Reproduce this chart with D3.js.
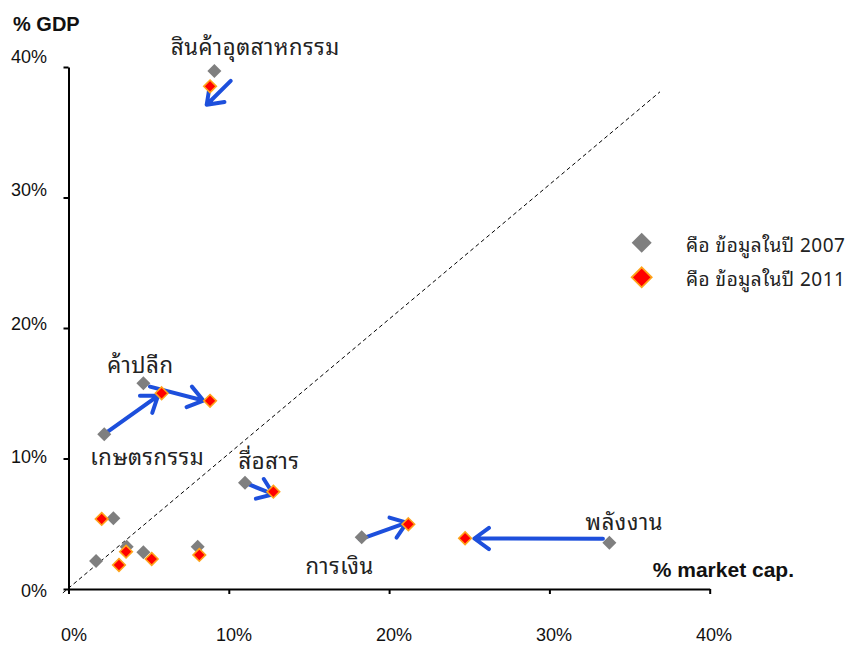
<!DOCTYPE html>
<html>
<head>
<meta charset="utf-8">
<script src="https://cdn.jsdelivr.net/npm/d3@7"></script>
<style>
  html, body { margin: 0; padding: 0; background: #fff; }
  svg { display: block; }
  .num { font-family: "Liberation Sans", Arial, sans-serif; fill: #111; }
  .thai { font-family: "Noto Sans Thai Looped", "Noto Sans Thai", Tahoma, Loma, "Noto Sans", sans-serif; fill: #222; }
</style>
</head>
<body>
<svg id="chart" width="847" height="646"></svg>
<script>
// Sector names (unlabelled sectors left blank)
const sectors = ["สินค้าอุตสาหกรรม", "ค้าปลีก", "เกษตรกรรม", "สื่อสาร", "การเงิน", "พลังงาน", "", "", "", "", ""];
// Share of market capitalisation (%) and share of GDP (%), 2007
const cap2007 = [9.10, 4.67, 2.23, 11.01, 18.29, 33.74, 2.80, 3.63, 1.72, 4.67, 8.06];
const gdp2007 = [39.70, 15.77, 11.86, 8.15, 3.96, 3.55, 5.42, 3.24, 2.15, 2.81, 3.24];
// Same measures, 2011
const cap2011 = [8.83, 8.83, 5.81, 12.78, 21.20, 24.74, 2.07, 3.59, 3.15, 5.19, 8.16];
const gdp2011 = [38.52, 14.42, 15.00, 7.46, 4.96, 3.89, 5.37, 2.86, 1.84, 2.30, 2.61];
// Movement arrows: start and end in (% market cap, % GDP)
const arrowFromCap = [10.12, 2.23, 5.08, 11.22, 18.18, 33.34];
const arrowFromGdp = [38.94, 11.86, 15.51, 8.03, 3.81, 3.86];
const arrowToCap   = [8.62, 5.58, 8.41, 12.78, 21.10, 25.32];
const arrowToGdp   = [37.11, 14.80, 14.44, 7.26, 5.08, 3.87];
// Axis ticks
const tickValues = [0, 10, 20, 30, 40];
const tickLabels = ["0%", "10%", "20%", "30%", "40%"];
// Reference line y = x
const refCap = [-0.35, 36.9];
const refGdp = [-0.3, 38.1];
// Legend
const legendLabels = ["คือ ข้อมูลในปี 2007", "คือ ข้อมูลในปี 2011"];

const svg = d3.select("#chart");
const x = d3.scaleLinear().domain([0, 40]).range([68.5, 709.7]);
const y = d3.scaleLinear().domain([0, 40]).range([589, 67]);
// tick labels sit on their own slightly wider grid
const xLab = d3.scaleLinear().domain([0, 40]).range([74, 714]);
const yLab = d3.scaleLinear().domain([0, 40]).range([596.5, 63]);

// reference diagonal
svg.append("line")
  .attr("x1", x(refCap[0])).attr("y1", y(refGdp[0]))
  .attr("x2", x(refCap[1])).attr("y2", y(refGdp[1]))
  .attr("stroke", "#000").attr("stroke-width", 1)
  .attr("stroke-dasharray", "4,3");

// axes
const xAxis = svg.append("g").attr("transform", `translate(0,${y(0)})`)
  .call(d3.axisBottom(x).tickValues(tickValues).tickSize(5).tickSizeOuter(0).tickFormat(""));
const yAxis = svg.append("g").attr("transform", `translate(${x(0)},0)`)
  .call(d3.axisLeft(y).tickValues(tickValues).tickSize(5).tickSizeOuter(0).tickFormat(""));
[xAxis, yAxis].forEach(g => {
  g.selectAll("path, line").attr("stroke", "#000").attr("stroke-width", 2);
});

svg.append("g").selectAll("text").data(tickValues).join("text")
  .attr("class", "num").attr("x", d => xLab(d)).attr("y", 641)
  .attr("text-anchor", "middle").attr("font-size", 18)
  .text((d, i) => tickLabels[i]);
svg.append("g").selectAll("text").data(tickValues).join("text")
  .attr("class", "num").attr("x", 47).attr("y", d => yLab(d))
  .attr("text-anchor", "end").attr("font-size", 18)
  .text((d, i) => tickLabels[i]);

// axis titles
svg.append("text").attr("class", "num").attr("x", 13).attr("y", 31)
  .attr("font-size", 20).attr("font-weight", "bold").text("% GDP");
svg.append("text").attr("class", "num").attr("x", 794).attr("y", 577)
  .attr("text-anchor", "end").attr("font-size", 21).attr("font-weight", "bold").text("% market cap.");

// arrows
const arrowColor = "#1d4fdc";
const arrows = svg.append("g");
arrowFromCap.forEach((_, i) => {
  const x1 = x(arrowFromCap[i]), y1 = y(arrowFromGdp[i]);
  const x2 = x(arrowToCap[i]), y2 = y(arrowToGdp[i]);
  const ang = Math.atan2(y2 - y1, x2 - x1);
  const len = 18, spread = Math.PI * 0.2;
  const hx1 = x2 - len * Math.cos(ang - spread), hy1 = y2 - len * Math.sin(ang - spread);
  const hx2 = x2 - len * Math.cos(ang + spread), hy2 = y2 - len * Math.sin(ang + spread);
  arrows.append("path")
    .attr("d", `M${x1},${y1}L${x2},${y2}M${hx1},${hy1}L${x2},${y2}L${hx2},${hy2}`)
    .attr("fill", "none").attr("stroke", arrowColor).attr("stroke-width", 4)
    .attr("stroke-linecap", "round").attr("stroke-linejoin", "round");
});

const diamond = (s) => `M0,${-s}L${s},0L0,${s}L${-s},0Z`;

// 2007 points
svg.append("g").selectAll("path").data(cap2007).join("path")
  .attr("transform", (d, i) => `translate(${x(d)},${y(gdp2007[i])})`)
  .attr("d", diamond(7)).attr("fill", "#7f7f7f");
// 2011 points
svg.append("g").selectAll("path").data(cap2011).join("path")
  .attr("transform", (d, i) => `translate(${x(d)},${y(gdp2011[i])})`)
  .attr("d", diamond(6.3)).attr("fill", "#ff0000")
  .attr("stroke", "#ffa31a").attr("stroke-width", 1.6);

// sector labels, placed relative to the 2007 point
const labelOffset = [[41, -16], [-3, -10], [43, 31], [24, -14], [-22, 37], [15, -13]];
svg.append("g").selectAll("text").data(labelOffset).join("text")
  .attr("class", "thai").attr("font-size", 22).attr("letter-spacing", 0.6)
  .attr("text-anchor", "middle")
  .attr("x", (d, i) => x(cap2007[i]) + d[0])
  .attr("y", (d, i) => y(gdp2007[i]) + d[1])
  .text((d, i) => sectors[i]);

// legend
const legend = svg.append("g");
legendLabels.forEach((lab, i) => {
  const ly = 242.7 + i * 34.6;
  const m = legend.append("path").attr("transform", `translate(641.7,${ly})`).attr("d", diamond(10));
  if (i === 0) m.attr("fill", "#7f7f7f");
  else m.attr("fill", "#ff0000").attr("stroke", "#ffa31a").attr("stroke-width", 1.8);
  legend.append("text").attr("class", "thai").attr("x", 686).attr("y", ly + 9)
    .attr("font-size", 19).attr("letter-spacing", 0.5).text(lab);
});
</script>
</body>
</html>
